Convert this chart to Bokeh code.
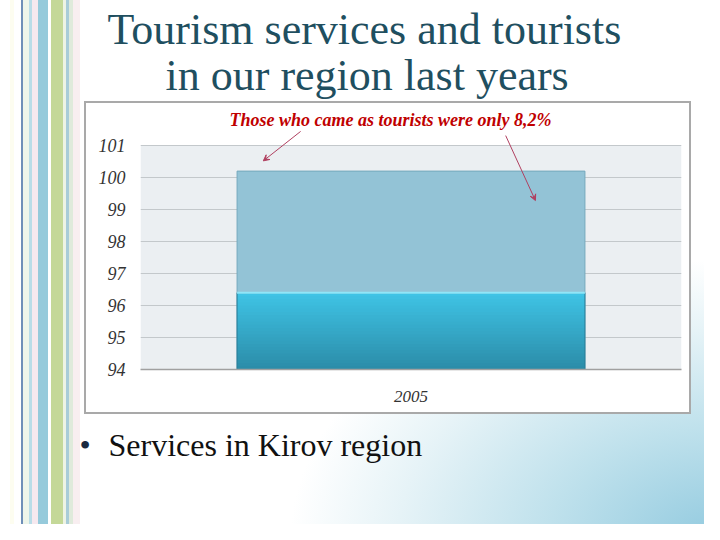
from bokeh.plotting import figure
from bokeh.layouts import column
from bokeh.models import FactorRange, Range1d, Label, Arrow, VeeHead, BoxAnnotation, FixedTicker
from bokeh.embed import file_html
from bokeh.resources import INLINE

# ---- data ----
categories = ["2005"]
services_total = [100.2]      # light bar
services_kirov = [96.4]       # bright bar
y_ticks = [94, 95, 96, 97, 98, 99, 100, 101]
y_min, y_max = 94, 101
title_lines = ["Tourism services and tourists", "in our region last years"]
note_text = "Those who came as tourists were only 8,2%"
bullet_text = "Services in Kirov region"

W = 704
H1, H2, H3 = 101, 319, 104
SERIF = "Liberation Serif"


def blank(h):
    f = figure(width=W, height=h, x_range=Range1d(0, W), y_range=Range1d(0, h),
               x_axis_type=None, y_axis_type=None, output_backend="svg",
               toolbar_location=None, min_border=0)
    f.border_fill_color = None
    f.background_fill_color = None
    f.outline_line_color = None
    f.frame_align = False
    return f


# ---- title figure ----
f1 = blank(H1)
for t, x, y in zip(title_lines, [107, 165], [72, 26]):
    f1.add_layout(Label(x=x, y=y, text=t, text_align="left", text_baseline="alphabetic",
                        text_font=SERIF, text_font_size="44px", text_color="#1f4f60"))

# ---- chart figure ----
top_extra = (145 - 101) / 32.0
p = figure(width=W, height=H2, x_range=FactorRange(*categories),
           y_range=Range1d(y_min, y_max + top_extra), output_backend="svg",
           toolbar_location=None, min_border_left=140, min_border_right=23,
           min_border_top=0, min_border_bottom=51)
p.border_fill_color = None
p.background_fill_color = None
p.outline_line_color = None
p.frame_align = False

p.add_layout(BoxAnnotation(bottom=y_min, top=y_max, fill_color="#ebeff2", fill_alpha=1,
                           line_color=None, level="image"))

bw = 0.643
p.vbar(x=categories, bottom=y_min, top=services_total, width=bw,
       fill_color="#93c3d6", line_color="#74a8bd", line_width=1)

# bright bar: vertical gradient from overlapping slices (tallest first)
n = 24
top_c = (0x3f, 0xc3, 0xe5)
bot_c = (0x2b, 0x8b, 0xa7)
for i in range(n, 0, -1):
    t = y_min + (services_kirov[0] - y_min) * i / n
    f = i / n
    c = tuple(int(bot_c[k] + (top_c[k] - bot_c[k]) * f) for k in range(3))
    p.vbar(x=categories, bottom=y_min, top=[t], width=bw,
           fill_color="#%02x%02x%02x" % c, line_color=None)
p.vbar(x=categories, bottom=y_min, top=services_kirov, width=bw,
       fill_color=None, line_color="#2a7f99", line_width=1)
p.segment(x0=[0.5 - bw / 2], x1=[0.5 + bw / 2], y0=services_kirov, y1=services_kirov,
          line_color="#8fe6f8", line_width=2)

p.yaxis.ticker = FixedTicker(ticks=y_ticks)
p.yaxis.axis_line_color = None
p.yaxis.major_tick_line_color = None
p.yaxis.minor_tick_line_color = None
p.yaxis.major_label_standoff = 9
p.yaxis.major_label_text_font = SERIF
p.yaxis.major_label_text_font_style = "italic"
p.yaxis.major_label_text_font_size = "18px"
p.yaxis.major_label_text_color = "#333333"

p.xaxis.axis_line_color = "#a0a0a0"
p.xaxis.axis_line_width = 1.5
p.xaxis.major_tick_line_color = None
p.xaxis.major_label_standoff = 15
p.xaxis.major_label_text_font = SERIF
p.xaxis.major_label_text_font_style = "italic"
p.xaxis.major_label_text_font_size = "17px"
p.xaxis.major_label_text_color = "#333333"

p.xgrid.grid_line_color = None
p.ygrid.grid_line_color = "#c3c8cb"

p.add_layout(Label(x=0.462, y=101.81, text=note_text, text_align="center",
                   text_baseline="middle", text_font=SERIF,
                   text_font_style="bold italic", text_font_size="18px",
                   text_color="#c00000"))
for xs, ys, xe, ye in [(0.296, 101.44, 0.227, 100.52), (0.675, 101.31, 0.730, 99.28)]:
    p.add_layout(Arrow(x_start=xs, y_start=ys, x_end=xe, y_end=ye, line_color="#b04060",
                       line_width=1, end=VeeHead(size=6, line_color="#b04060",
                                                 fill_color="#b04060")))

# ---- bullet figure ----
f3 = blank(H3)
f3.add_layout(Label(x=79, y=80, text="\u2022", text_align="left", text_baseline="alphabetic",
                    text_font=SERIF, text_font_size="32px", text_color="#1a2a40"))
f3.add_layout(Label(x=108, y=80, text=bullet_text, text_align="left",
                    text_baseline="alphabetic", text_font=SERIF, text_font_size="32px",
                    text_color="#111111"))

# ---- slide decoration (css) ----
panel = ("linear-gradient(#ffffff,#ffffff) 86px 103px / 603px 309px no-repeat, "
         "linear-gradient(#a9a9a9,#a9a9a9) 84px 101px / 607px 313px no-repeat")
stripes = ("linear-gradient(90deg, "
           "transparent 0px, transparent 10px, #fdfdf0 10px, #fdfdf0 14px, transparent 14px, "
           "transparent 21px, #6f8fb8 21px, #6f8fb8 23px, #eef5ea 23px, #eef5ea 29px, "
           "#b9dde8 29px, #b9dde8 32px, #f6e9ef 32px, #f6e9ef 38px, #96cadb 38px, #96cadb 48px, "
           "#ffffff 48px, #ffffff 51px, #c4d898 51px, #c4d898 63px, #eef3e4 63px, #eef3e4 66px, "
           "#a9ccd7 66px, #a9ccd7 69px, #dfeadb 69px, #dfeadb 73px, #f8eef0 73px, #f8eef0 80px, "
           "transparent 80px)")
glow = ("radial-gradient(ellipse 430px 280px at 720px 540px, #92cadf 0%, #bfe1ec 40%, "
        "#e6f3f7 75%, #ffffff 100%)")
layout = column(f1, p, f3, spacing=0,
                styles={"background": panel + ", " + stripes + ", " + glow})

open("out.html", "w").write(file_html(layout, INLINE))
